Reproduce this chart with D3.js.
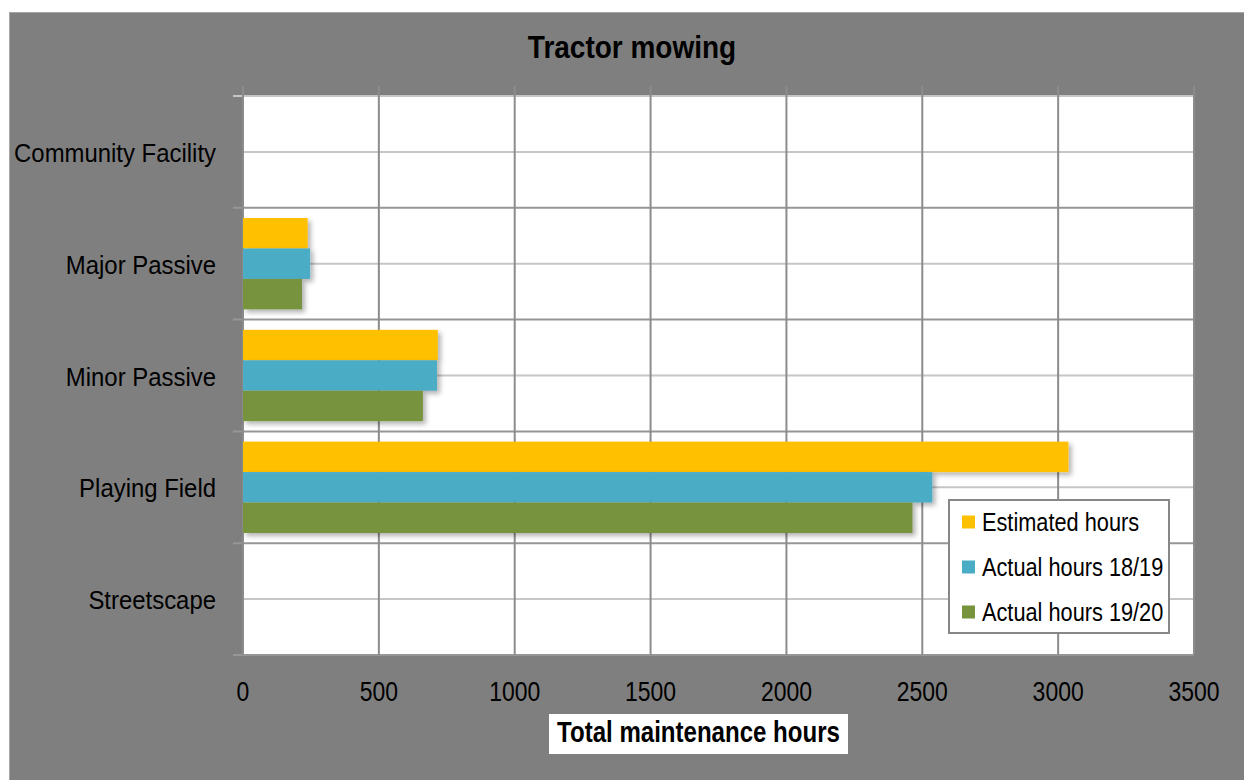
<!DOCTYPE html>
<html>
<head>
<meta charset="utf-8">
<script src="https://cdn.jsdelivr.net/npm/d3@7"></script>
<style>
  body { margin: 0; background: #fff; }
  text { font-family: "Liberation Sans", Arial, sans-serif; fill: #000; }
</style>
</head>
<body>
<div id="chart"></div>
<script>
var categories = ["Community Facility", "Major Passive", "Minor Passive", "Playing Field", "Streetscape"];
var seriesNames = ["Estimated hours", "Actual hours 18/19", "Actual hours 19/20"];
var estimated = [0, 238, 717, 3038, 0];
var actual1819 = [0, 247, 714, 2537, 0];
var actual1920 = [0, 217, 662, 2464, 0];
var xTicks = [0, 500, 1000, 1500, 2000, 2500, 3000, 3500];

var width = 1244, height = 780;
var margin = {top: 96, right: 50, bottom: 125, left: 243};
var colors = ["#FFC000", "#4BACC6", "#77933C"];

var svg = d3.select("#chart").append("svg")
  .attr("width", width)
  .attr("height", height);

// the original text is condensed, so squeeze it horizontally
function label(parent, px, py, str, size, k, anchor, weight) {
  return parent.append("g")
      .attr("transform", "translate(" + px + "," + py + ") scale(" + k + ",1)")
    .append("text")
      .attr("text-anchor", anchor || "start")
      .attr("font-size", size)
      .attr("font-weight", weight || "normal")
      .text(str);
}

// shadow for the bars
var defs = svg.append("defs");
defs.append("filter")
    .attr("id", "shadow")
    .attr("x", "-10%").attr("y", "-20%")
    .attr("width", "130%").attr("height", "160%")
  .append("feDropShadow")
    .attr("dx", 3).attr("dy", 3)
    .attr("stdDeviation", 2.5)
    .attr("flood-color", "#000")
    .attr("flood-opacity", 0.3);

// outer gray panel
svg.append("rect")
  .attr("x", 9.5).attr("y", 12.5)
  .attr("width", width - 9).attr("height", height - 12)
  .attr("fill", "#7f7f7f")
  .attr("stroke", "#a6a6a6");

var x = d3.scaleLinear()
  .domain([0, 3500])
  .range([margin.left, 1194]);

var y = d3.scaleBand()
  .domain(categories)
  .range([margin.top, height - margin.bottom]);

var ySub = d3.scaleBand()
  .domain(seriesNames)
  .range([0, y.bandwidth()])
  .paddingInner(0)
  .paddingOuter(0.336);

// plot area
svg.append("rect")
  .attr("x", x(0)).attr("y", y.range()[0])
  .attr("width", x(3500) - x(0))
  .attr("height", y.range()[1] - y.range()[0])
  .attr("fill", "#fff");

// minor horizontal grid at category centres
svg.append("g")
  .selectAll("line")
  .data(categories)
  .enter().append("line")
    .attr("x1", x(0)).attr("x2", x(3500))
    .attr("y1", function(d) { return y(d) + y.bandwidth() / 2; })
    .attr("y2", function(d) { return y(d) + y.bandwidth() / 2; })
    .attr("stroke", "#c6c6c6")
    .attr("stroke-width", 2);

// major horizontal grid at category edges (with outside ticks)
var edges = categories.map(function(d) { return y(d); }).concat([y.range()[1]]);
svg.append("g")
  .selectAll("line")
  .data(edges)
  .enter().append("line")
    .attr("x1", x(0) - 10).attr("x2", x(3500))
    .attr("y1", function(d) { return d; })
    .attr("y2", function(d) { return d; })
    .attr("stroke", function(d, i) { return i == 0 ? "#c6c6c6" : "#969696"; })
    .attr("stroke-width", 2);

// vertical grid
svg.append("g")
  .selectAll("line")
  .data(xTicks)
  .enter().append("line")
    .attr("x1", function(d) { return x(d); })
    .attr("x2", function(d) { return x(d); })
    .attr("y1", y.range()[0] - 10)
    .attr("y2", y.range()[1])
    .attr("stroke", "#8c8c8c")
    .attr("stroke-width", 2);

// bars
var series = [estimated, actual1819, actual1920];
series.forEach(function(vals, s) {
  svg.append("g")
    .attr("fill", colors[s])
    .attr("filter", "url(#shadow)")
    .selectAll("rect")
    .data(vals)
    .enter().append("rect")
      .attr("x", x(0))
      .attr("y", function(d, i) { return y(categories[i]) + ySub(seriesNames[s]); })
      .attr("width", function(d) { return x(d) - x(0); })
      .attr("height", ySub.bandwidth())
      .style("display", function(d) { return d > 0 ? null : "none"; });
});

// category labels
categories.forEach(function(c) {
  label(svg, 216, y(c) + y.bandwidth() / 2 + 10, c, 26, 0.92, "end");
});

// tick labels
xTicks.forEach(function(t) {
  label(svg, x(t), 701, t, 28, 0.82, "middle");
});

// title
label(svg, 632, 58, "Tractor mowing", 32, 0.875, "middle", "bold");

// x axis title on white box
svg.append("rect")
  .attr("x", 549).attr("y", 714)
  .attr("width", 299).attr("height", 40)
  .attr("fill", "#fff");
label(svg, 698.5, 742, "Total maintenance hours", 29, 0.83, "middle", "bold");

// legend
var legend = svg.append("g").attr("transform", "translate(949,500)");
legend.append("rect")
  .attr("width", 220).attr("height", 133)
  .attr("fill", "#fff")
  .attr("stroke", "#878787")
  .attr("stroke-width", 2);

seriesNames.forEach(function(name, i) {
  var row = legend.append("g")
    .attr("transform", "translate(13," + (22 + i * 45) + ")");
  row.append("rect")
    .attr("y", -6.5)
    .attr("width", 13).attr("height", 13)
    .attr("fill", colors[i]);
  label(row, 20, 9, name, 25, 0.87);
});
</script>
</body>
</html>
